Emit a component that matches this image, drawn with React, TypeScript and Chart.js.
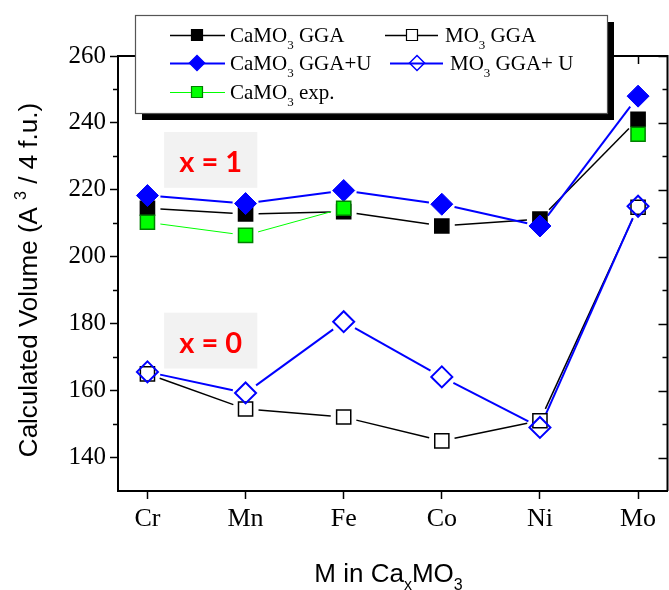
import React, { useEffect, useRef } from 'react';
import { Chart, registerables } from 'chart.js';

Chart.register(...registerables);

// Lattice volume per 4 formula units for each transition metal M
const categories = ['Cr', 'Mn', 'Fe', 'Co', 'Ni', 'Mo'];
const caGGA = [214.5, 212.8, 213.5, 209.2, 211.3, 241.1];
const caGGAU = [218.3, 215.9, 219.8, 215.7, 209.2, 248.0];
const caExp: (number | null)[] = [210.3, 206.4, 214.5, null, null, 236.6];
const moGGA = [165.0, 154.5, 152.1, 145.0, 151.0, 214.8];
const moGGAU = [165.6, 159.3, 180.6, 164.1, 149.0, 215.1];

const yMajorTicks = [140, 160, 180, 200, 220, 240, 260];
const yMinorTicks = [150, 170, 190, 210, 230, 250];

const SERIF = '"Liberation Serif", "Times New Roman", serif';
const SANS = '"Liberation Sans", Arial, sans-serif';
const BOLD_SANS = 'Lato, "Open Sans", sans-serif';

type Seg = { t: string; s?: 'sub' | 'sup' };

function drawRich(
  ctx: CanvasRenderingContext2D,
  segs: Seg[],
  x: number,
  y: number,
  size: number,
  family: string,
  align: 'left' | 'center',
  smallScale = 0.62,
  subDrop = 0.33,
  supRise = 0.42
) {
  const main = `${size}px ${family}`;
  const small = `${Math.round(size * smallScale)}px ${family}`;
  const widths = segs.map((s) => {
    ctx.font = s.s ? small : main;
    return ctx.measureText(s.t).width;
  });
  const total = widths.reduce((a, b) => a + b, 0);
  let cx = align === 'center' ? x - total / 2 : x;
  ctx.textAlign = 'left';
  ctx.textBaseline = 'alphabetic';
  segs.forEach((s, i) => {
    ctx.font = s.s ? small : main;
    const dy = s.s === 'sub' ? size * subDrop : s.s === 'sup' ? -size * supRise : 0;
    ctx.fillText(s.t, cx, y + dy);
    cx += widths[i];
  });
}

function drawMarker(
  ctx: CanvasRenderingContext2D,
  style: string,
  x: number,
  y: number,
  r: number,
  fill: string,
  stroke: string,
  lw: number
) {
  ctx.beginPath();
  if (style === 'rect') {
    ctx.rect(x - r, y - r, 2 * r, 2 * r);
  } else {
    ctx.moveTo(x, y - r);
    ctx.lineTo(x + r, y);
    ctx.lineTo(x, y + r);
    ctx.lineTo(x - r, y);
    ctx.closePath();
  }
  if (fill !== 'transparent') {
    ctx.fillStyle = fill;
    ctx.fill();
  }
  ctx.lineWidth = lw;
  ctx.strokeStyle = stroke;
  ctx.stroke();
}

const toXY = (vals: (number | null)[]) => vals.map((v, i) => ({ x: i, y: v }));

// Connecting lines stop short of each symbol, leaving a small gap
const LINE_GAP = 13;
const gapLines = {
  id: 'gapLines',
  beforeDatasetsDraw(chart: any) {
    const ctx: CanvasRenderingContext2D = chart.ctx;
    const { chartArea } = chart;
    ctx.save();
    ctx.beginPath();
    ctx.rect(chartArea.left, chartArea.top, chartArea.right - chartArea.left, chartArea.bottom - chartArea.top);
    ctx.clip();
    const idx = chart.data.datasets.map((_: any, i: number) => i);
    idx.sort((a: number, b: number) => chart.data.datasets[b].order - chart.data.datasets[a].order);
    idx.forEach((i: number) => {
      const ds = chart.data.datasets[i];
      const pts = chart.getDatasetMeta(i).data;
      ctx.strokeStyle = ds.borderColor;
      ctx.lineWidth = ds.lineW;
      for (let k = 0; k < pts.length - 1; k++) {
        if (ds.data[k].y == null || ds.data[k + 1].y == null) continue;
        const p = pts[k];
        const q = pts[k + 1];
        const dx = q.x - p.x;
        const dy = q.y - p.y;
        const len = Math.hypot(dx, dy);
        if (len <= 2 * LINE_GAP) continue;
        const ux = dx / len;
        const uy = dy / len;
        ctx.beginPath();
        ctx.moveTo(p.x + ux * LINE_GAP, p.y + uy * LINE_GAP);
        ctx.lineTo(q.x - ux * LINE_GAP, q.y - uy * LINE_GAP);
        ctx.stroke();
      }
    });
    ctx.restore();
  },
};

// Shaded "x = 1" / "x = 0" tags placed in data coordinates
const tags = [
  { text: 'x = 1', x0: 0.17, x1: 1.12, y0: 220.6, y1: 237.3 },
  { text: 'x = 0', x0: 0.17, x1: 1.12, y0: 166.6, y1: 183.3 },
];
const tagPlugin = {
  id: 'tags',
  beforeDatasetsDraw(chart: any) {
    const ctx: CanvasRenderingContext2D = chart.ctx;
    const xs = chart.scales.x;
    const ys = chart.scales.y;
    ctx.save();
    tags.forEach((t) => {
      const l = xs.getPixelForValue(t.x0);
      const r = xs.getPixelForValue(t.x1);
      const top = ys.getPixelForValue(t.y1);
      const bot = ys.getPixelForValue(t.y0);
      ctx.fillStyle = '#f2f2f2';
      ctx.fillRect(l, top, r - l, bot - top);
      ctx.fillStyle = '#ff0000';
      ctx.font = `bold 29px ${BOLD_SANS}`;
      ctx.textAlign = 'center';
      ctx.textBaseline = 'alphabetic';
      ctx.fillText(t.text, (l + r) / 2, (top + bot) / 2 + 12);
    });
    ctx.restore();
  },
};

// Frame, minor ticks, inward ticks on top/right, axis titles and legend
const framePlugin = {
  id: 'frame',
  afterDraw(chart: any) {
    const ctx: CanvasRenderingContext2D = chart.ctx;
    const { left, right, top, bottom } = chart.chartArea;
    const xs = chart.scales.x;
    const ys = chart.scales.y;
    ctx.save();
    ctx.strokeStyle = '#000';
    ctx.lineWidth = 2;
    ctx.beginPath();
    ctx.moveTo(left - 1, top);
    ctx.lineTo(right, top);
    ctx.lineTo(right, bottom);
    ctx.stroke();

    ctx.lineWidth = 1.5;
    ctx.beginPath();
    yMinorTicks.forEach((v) => {
      const y = Math.round(ys.getPixelForValue(v)) + 0.5;
      ctx.moveTo(left - 5, y);
      ctx.lineTo(left, y);
      ctx.moveTo(right - 5, y);
      ctx.lineTo(right, y);
    });
    yMajorTicks.forEach((v) => {
      const y = Math.round(ys.getPixelForValue(v)) + 0.5;
      ctx.moveTo(right - 9, y);
      ctx.lineTo(right, y);
    });
    categories.forEach((_, i) => {
      const x = Math.round(xs.getPixelForValue(i)) + 0.5;
      ctx.moveTo(x, top);
      ctx.lineTo(x, top + 8);
    });
    ctx.stroke();

    // axis titles
    ctx.fillStyle = '#000';
    drawRich(
      ctx,
      [{ t: 'M in Ca' }, { t: 'x', s: 'sub' }, { t: 'MO' }, { t: '3', s: 'sub' }],
      (left + 671) / 2 - 6,
      582,
      26,
      SANS,
      'center',
      0.62,
      0.3
    );
    ctx.save();
    ctx.translate(37, 280);
    ctx.rotate(-Math.PI / 2);
    drawRich(
      ctx,
      [{ t: 'Calculated Volume (A ' }, { t: '3', s: 'sup' }, { t: ' / 4 f.u.)' }],
      0,
      0,
      26,
      SANS,
      'center'
    );
    ctx.restore();

    // legend box with drop shadow
    const bx = 135, by = 15, bw = 472, bh = 98;
    ctx.fillStyle = '#000';
    ctx.fillRect(bx + 7, by + 7, bw, bh);
    ctx.fillStyle = '#fff';
    ctx.fillRect(bx, by, bw, bh);
    ctx.strokeStyle = '#555';
    ctx.lineWidth = 1.2;
    ctx.strokeRect(bx + 0.5, by + 0.5, bw, bh);

    const rows = [35, 63, 92];
    const cols = [
      { l0: 170, l1: 225, m: 197, t: 230 },
      { l0: 385, l1: 438, m: 412, t: 445 },
    ];
    legendEntries.forEach((e) => {
      const ds = chart.data.datasets[e.series];
      const c = cols[e.col];
      const y = rows[e.row];
      const dx = e.dx || 0;
      ctx.strokeStyle = ds.borderColor;
      ctx.lineWidth = ds.lineW;
      ctx.beginPath();
      ctx.moveTo(c.l0 + dx, y + 0.5);
      ctx.lineTo(c.l1 + dx, y + 0.5);
      ctx.stroke();
      const r = ds.pointStyle === 'rect' ? 5.5 : 7.5;
      drawMarker(
        ctx,
        ds.pointStyle,
        c.m + dx,
        y,
        r,
        ds.backgroundColor,
        ds.pointBorderColor || ds.borderColor,
        ds.pointStyle === 'rect' ? 1.2 : 1.5
      );
      ctx.fillStyle = '#000';
      drawRich(ctx, e.label, c.t + dx, y + 7, 21, SERIF, 'left', 0.62, 0.34);
    });
    ctx.restore();
  },
};

const legendEntries: { label: Seg[]; series: number; row: number; col: number; dx?: number }[] = [
  { label: [{ t: 'CaMO' }, { t: '3', s: 'sub' }, { t: ' GGA' }], series: 0, row: 0, col: 0 },
  { label: [{ t: 'MO' }, { t: '3', s: 'sub' }, { t: ' GGA' }], series: 1, row: 0, col: 1 },
  { label: [{ t: 'CaMO' }, { t: '3', s: 'sub' }, { t: ' GGA+U' }], series: 2, row: 1, col: 0 },
  { label: [{ t: 'MO' }, { t: '3', s: 'sub' }, { t: ' GGA+ U' }], series: 3, row: 1, col: 1, dx: 5 },
  { label: [{ t: 'CaMO' }, { t: '3', s: 'sub' }, { t: ' exp.' }], series: 4, row: 2, col: 0 },
];

export default function App() {
  const ref = useRef<HTMLCanvasElement>(null);

  useEffect(() => {
    const datasets: any[] = [
      {
        label: 'CaMO3 GGA',
        data: toXY(caGGA),
        pointStyle: 'rect',
        pointRadius: 10,
        pointBorderWidth: 1.5,
        backgroundColor: '#000000',
        borderColor: '#000000',
        lineW: 1.5,
        order: 5,
      },
      {
        label: 'MO3 GGA',
        data: toXY(moGGA),
        pointStyle: 'rect',
        pointRadius: 10,
        pointBorderWidth: 1.5,
        backgroundColor: '#ffffff',
        borderColor: '#000000',
        lineW: 1.5,
        order: 4,
      },
      {
        label: 'CaMO3 GGA+U',
        data: toXY(caGGAU),
        pointStyle: 'rectRot',
        pointRadius: 11,
        pointBorderWidth: 1,
        backgroundColor: '#0000ff',
        borderColor: '#0000ff',
        lineW: 2,
        order: 3,
      },
      {
        label: 'MO3 GGA+ U',
        data: toXY(moGGAU),
        pointStyle: 'rectRot',
        pointRadius: 10.5,
        pointBorderWidth: 2,
        backgroundColor: 'transparent',
        borderColor: '#0000ff',
        lineW: 2,
        order: 2,
      },
      {
        label: 'CaMO3 exp.',
        data: toXY(caExp),
        pointStyle: 'rect',
        pointRadius: 10,
        pointBorderWidth: 1.5,
        backgroundColor: '#00ff00',
        borderColor: '#00ff00',
        pointBorderColor: '#008000',
        lineW: 1,
        order: 1,
      },
    ];

    const chart = new Chart(ref.current as HTMLCanvasElement, {
      type: 'line',
      data: { datasets },
      options: {
        responsive: false,
        devicePixelRatio: 1,
        animation: false,
        events: [],
        showLine: false,
        layout: { padding: { top: 56, left: 0, right: 9, bottom: 0 } },
        plugins: { legend: { display: false }, tooltip: { enabled: false } },
        scales: {
          x: {
            type: 'linear',
            min: -0.3,
            max: 5.3,
            afterBuildTicks: (s: any) => {
              s.ticks = categories.map((_, i) => ({ value: i }));
            },
            afterFit: (s: any) => {
              s.height = 99;
            },
            ticks: {
              autoSkip: false,
              maxRotation: 0,
              padding: 5,
              color: '#000',
              font: { family: SERIF, size: 26 },
              callback: (v: any) => categories[Math.round(Number(v))] ?? '',
            },
            grid: { drawOnChartArea: false, tickLength: 8, tickColor: '#000', tickWidth: 1.5 },
            border: { display: true, color: '#000', width: 2 },
          },
          y: {
            type: 'linear',
            min: 130,
            max: 260,
            afterBuildTicks: (s: any) => {
              s.ticks = yMajorTicks.map((v) => ({ value: v }));
            },
            afterFit: (s: any) => {
              s.width = 118;
            },
            ticks: {
              padding: 4,
              color: '#000',
              font: { family: SERIF, size: 25 },
            },
            grid: { drawOnChartArea: false, tickLength: 8, tickColor: '#000', tickWidth: 1.5 },
            border: { display: true, color: '#000', width: 2 },
          },
        },
      } as any,
      plugins: [tagPlugin, gapLines, framePlugin],
    });
    return () => chart.destroy();
  }, []);

  return (
    <div
      style={{
        position: 'fixed',
        left: 0,
        top: 0,
        width: 669,
        height: 590,
        overflow: 'hidden',
        background: '#fff',
      }}
    >
      <canvas ref={ref} width={680} height={590} style={{ display: 'block', width: 680, height: 590 }} />
    </div>
  );
}
